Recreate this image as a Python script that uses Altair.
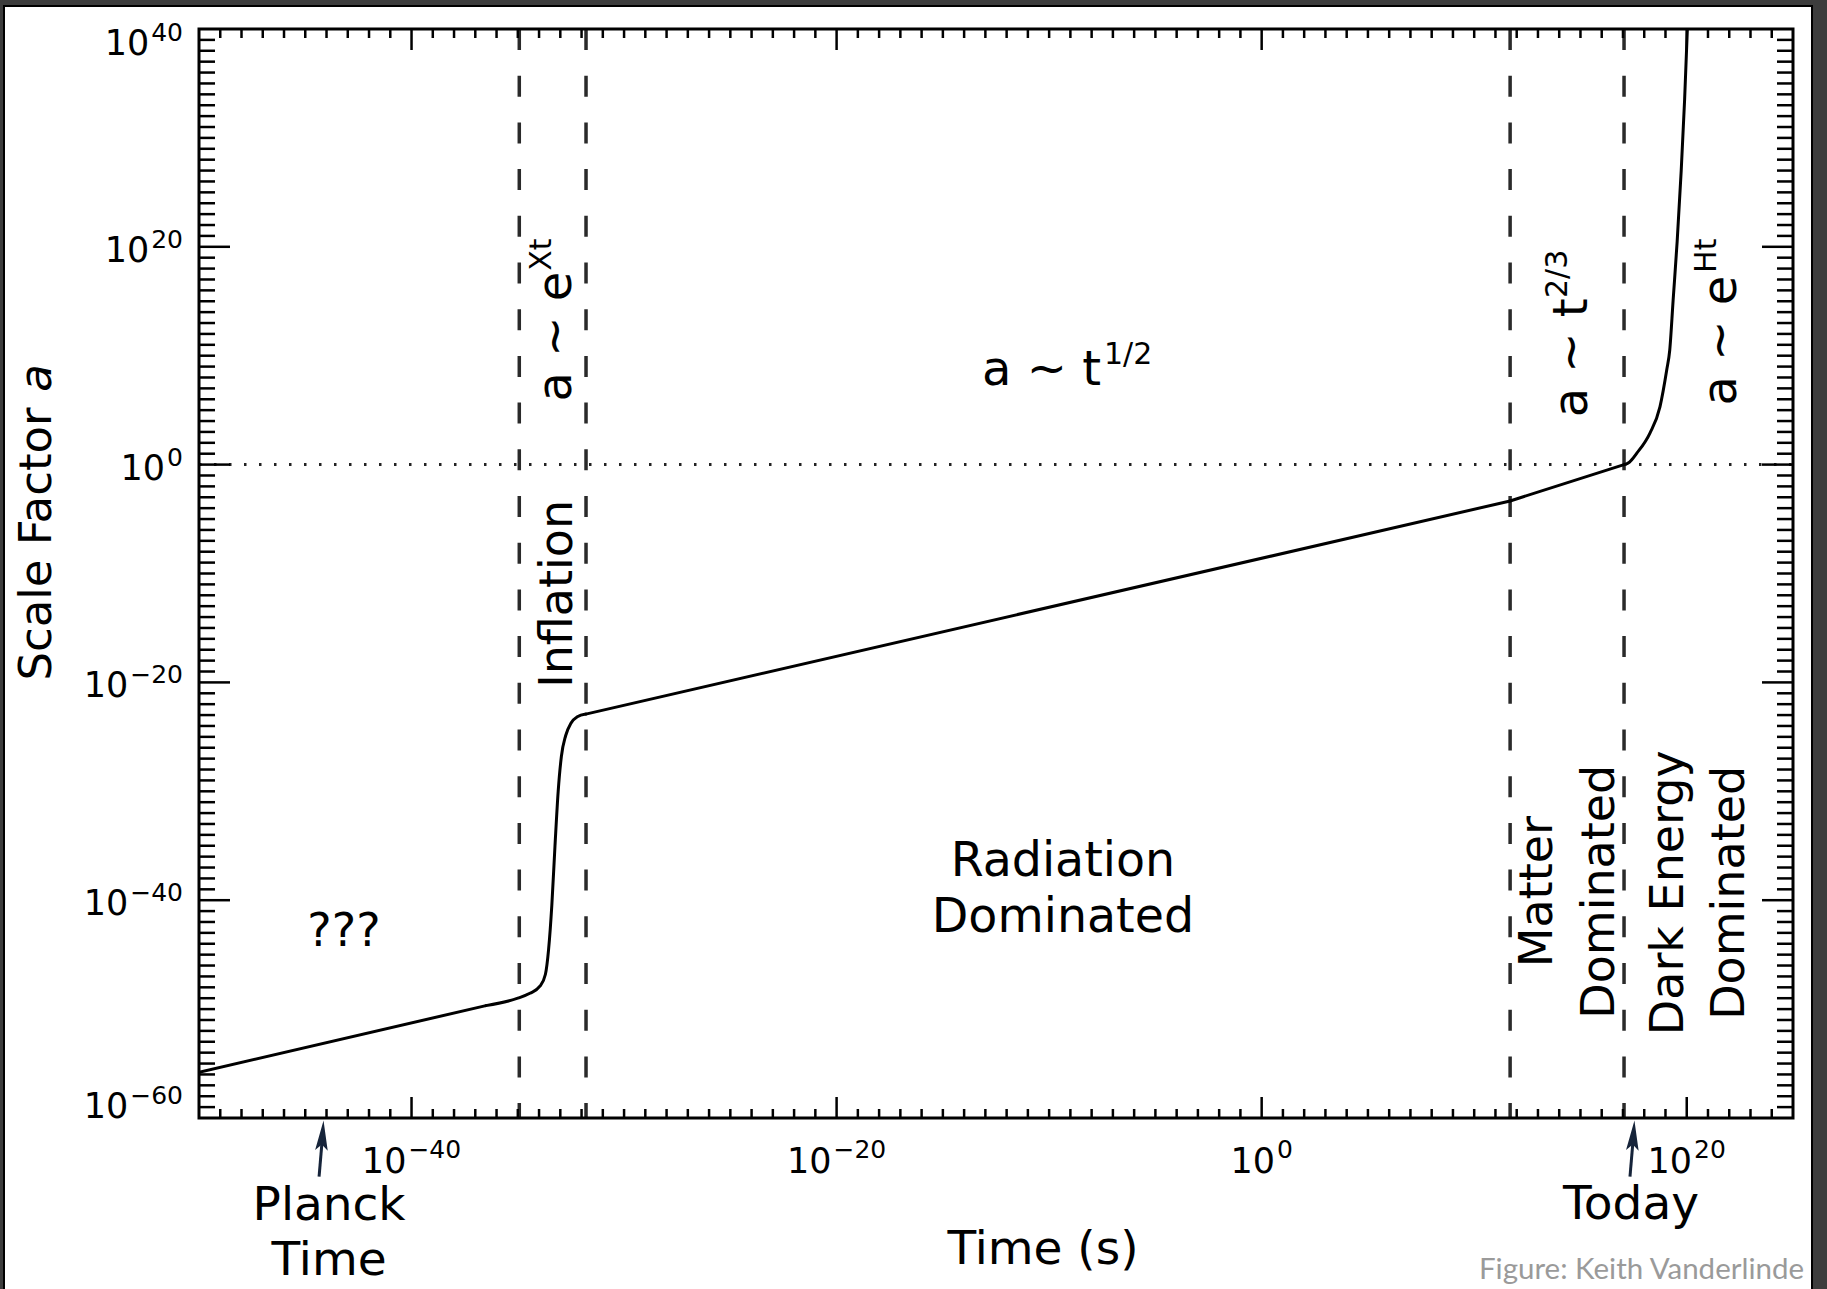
import altair as alt
import numpy as np
import pandas as pd

W, H = 1594, 1089
PX_PER_DEC_X = W / 75.0     # 10^-50 .. 10^25
PX_PER_DEC_Y = H / 100.0    # 10^-60 .. 10^40

# ---------------- data (log10 values) ----------------
pre_log_t = [-50.0, -36.5]
pre_log_a = [-55.8, -49.68]
rad_log_t = [-31.8, 11.69]
rad_log_a = [-22.91, -3.34]
mat_log_t = [11.69, 17.05]
mat_log_a = [-3.34, 0.0]
infl_log_t = [-36.5, -35.0, -34.43, -33.96, -33.70, -33.55, -33.40, -33.25, -33.10,
              -32.95, -32.75, -32.50, -32.20, -31.80]
infl_log_a = [-49.68, -49.0, -48.55, -47.9, -46.8, -44.5, -40.5, -35.0, -30.0,
              -26.8, -24.9, -23.75, -23.15, -22.91]
de_log_t = [17.05, 17.30, 17.66, 18.27, 18.74, 19.06, 19.20, 19.36,
            19.55, 19.74, 19.90, 20.03]
de_log_a = [0.0, 0.22, 1.07, 2.9, 5.3, 8.7, 10.5, 15.1,
            20.5, 27.0, 33.5, 40.0]

phase_log_t = [-34.93, -31.79, 11.69, 17.05]   # era boundaries (dashed)
unity_log_a = [0.0]                             # a = 1 (dotted)

x_major_exp = [-40, -20, 0, 20]
x_exp_text = ["\u221240", "\u221220", "0", "20"]
y_major_exp = [-60, -40, -20, 0, 20, 40]
y_exp_text = ["\u221260", "\u221240", "\u221220", "0", "20", "40"]
x_minor_exp = [e for e in range(-49, 25) if e not in x_major_exp]
y_minor_exp = [e for e in range(-59, 40) if e not in y_major_exp]
x_inner_major = [-40, -20, 0, 20]
y_inner_major = [-40, -20, 0, 20]

region_text = ["???", "Radiation", "Dominated"]
region_log_t = [-43.18, -9.35, -9.35]
region_log_a = [-42.90, -36.47, -41.61]

vertical_text = ["Inflation", "Matter", "Dominated", "Dark Energy", "Dominated"]
vertical_log_t = [-33.11, 13.00, 15.92, 19.17, 22.04]
vertical_log_a = [-11.87, -39.22, -39.22, -39.32, -39.32]

law_rot_base = ["a ~ e", "a ~ t", "a ~ e"]
law_rot_base_log_t = [-33.16, 14.65, 21.66]
law_rot_base_log_a = [11.75, 9.80, 11.38]
law_rot_sup = ["Xt", "2/3", "Ht"]
law_rot_sup_log_t = [-33.86, 13.94, 20.95]
law_rot_sup_log_a = [19.28, 17.51, 19.18]

law_h_base = ["a ~ t"]
law_h_base_log_t = [-7.56]
law_h_base_log_a = [7.32]
law_h_sup = ["1/2"]
law_h_sup_log_t = [-7.42]
law_h_sup_log_a = [9.25]

bottom_text = ["Planck", "Time", "Today", "Time (s)"]
bottom_log_t = [-43.88, -43.88, 17.38, -10.29]
bottom_log_a = [-68.05, -73.10, -67.96, -72.09]

ytitle_text = ["Scale Factor", "a"]
ytitle_log_t = [-57.62, -57.62]
ytitle_log_a = [-7.29, 7.96]

credit_text = ["Figure: Keith Vanderlinde"]
credit_log_t = [25.52]
credit_log_a = [-73.93]

arrow_log_t = [-44.35, 17.33]
arrow_log_t2 = [-44.19, 17.49]
arrow_log_a = [-65.39, -65.39]
arrow_log_a2 = [-61.70, -61.70]
arrow_head_log_a = [-61.60, -61.60]

# ---------------- scales ----------------
FONT = "DejaVu Sans"
xscale = alt.Scale(type="log", domain=[1e-50, 1e25], nice=False)
yscale = alt.Scale(type="log", domain=[1e-60, 1e40], nice=False)


def X(field="t"):
    return alt.X(f"{field}:Q", scale=xscale, axis=None)


def Y(field="a"):
    return alt.Y(f"{field}:Q", scale=yscale, axis=None)


def pw(v):
    return [10.0 ** x for x in v]


one = pd.DataFrame({"k": [0]})
layers = []

# paper background with thin black edge
layers.append(alt.Chart(one).mark_rect(fill="white", stroke="black", strokeWidth=2).encode(
    x=alt.value(-195), x2=alt.value(1613), y=alt.value(-23), y2=alt.value(1300)))

# dotted a = 1 line
layers.append(alt.Chart(pd.DataFrame({"a": pw(unity_log_a)})).mark_rule(
    color="#222222", strokeWidth=3, strokeDash=[2.5, 12.5]).encode(
    y=Y(), x=alt.value(0), x2=alt.value(W)))

# dashed era boundaries
layers.append(alt.Chart(pd.DataFrame({"t": pw(phase_log_t)})).mark_rule(
    color="#2a2a2a", strokeWidth=3.5, strokeDash=[21, 25.7]).encode(
    x=X(), y=alt.value(0), y2=alt.value(H)))


def seg_df(lts, las):
    return pd.DataFrame({"t": pw(lts), "a": pw(las), "i": range(len(lts))})


for lts, las in [(pre_log_t, pre_log_a), (rad_log_t, rad_log_a), (mat_log_t, mat_log_a)]:
    layers.append(alt.Chart(seg_df(lts, las)).mark_line(
        color="black", strokeWidth=3, clip=True, strokeCap="round").encode(
        x=X(), y=Y(), order="i:O"))
for lts, las in [(infl_log_t, infl_log_a), (de_log_t, de_log_a)]:
    layers.append(alt.Chart(seg_df(lts, las)).mark_line(
        color="black", strokeWidth=3, clip=True, interpolate="monotone",
        strokeCap="round").encode(x=X(), y=Y(), order="i:O"))


# inward ticks on all four sides
def xticks(exps, length):
    d = pd.DataFrame({"t": pw(exps)})
    return [
        alt.Chart(d).mark_rule(color="black", strokeWidth=2.5).encode(
            x=X(), y=alt.value(H), y2=alt.value(H - length)),
        alt.Chart(d).mark_rule(color="black", strokeWidth=2.5).encode(
            x=X(), y=alt.value(0), y2=alt.value(length)),
    ]


def yticks(exps, length):
    d = pd.DataFrame({"a": pw(exps)})
    return [
        alt.Chart(d).mark_rule(color="black", strokeWidth=2.5).encode(
            y=Y(), x=alt.value(0), x2=alt.value(length)),
        alt.Chart(d).mark_rule(color="black", strokeWidth=2.5).encode(
            y=Y(), x=alt.value(W), x2=alt.value(W - length)),
    ]


layers += xticks(x_minor_exp, 9) + xticks(x_inner_major, 21)
layers += yticks(y_minor_exp, 16) + yticks(y_inner_major, 31)

# frame
layers.append(alt.Chart(one).mark_rect(fill="transparent", stroke="black", strokeWidth=3).encode(
    x=alt.value(0), x2=alt.value(W), y=alt.value(0), y2=alt.value(H)))


def text_layer(texts, lts, las, size, angle=0, align="center", baseline="middle",
               color="black", font=FONT, style="normal"):
    d = pd.DataFrame({"label": texts, "t": pw(lts), "a": pw(las)})
    return alt.Chart(d).mark_text(font=font, fontSize=size, angle=angle, align=align,
                                  baseline=baseline, color=color, fontStyle=style).encode(
        x=X(), y=Y(), text="label:N")


# ---- tick labels: "10" plus a raised exponent ----
BASE_FS, EXP_FS, GAP = 35, 25, 2
ADV = {"\u2212": 0.838}


def str_w(s, fs):
    return sum(ADV.get(c, 0.636) for c in s) * fs


w_base = str_w("10", BASE_FS)
xb_t, xe_t = [], []
for e, s in zip(x_major_exp, x_exp_text):
    total = w_base + GAP + str_w(s, EXP_FS)
    right = -total / 2 + w_base
    xb_t.append(e + right / PX_PER_DEC_X)
    xe_t.append(e + (right + GAP) / PX_PER_DEC_X)
xb_a = [-60 - 55 / PX_PER_DEC_Y] * len(x_major_exp)
xe_a = [-60 - 40 / PX_PER_DEC_Y] * len(x_major_exp)
layers.append(text_layer(["10"] * len(x_major_exp), xb_t, xb_a, BASE_FS,
                         align="right", baseline="alphabetic"))
layers.append(text_layer(x_exp_text, xe_t, xe_a, EXP_FS, align="left", baseline="alphabetic"))

yb_t, ye_t, yb_a, ye_a = [], [], [], []
for e, s in zip(y_major_exp, y_exp_text):
    ye_t.append(-50 - 16 / PX_PER_DEC_X)
    yb_t.append(-50 - (16 + str_w(s, EXP_FS) + GAP) / PX_PER_DEC_X)
    drop = 26 if e == 40 else (0 if e == -60 else 15)
    yb_a.append(e - drop / PX_PER_DEC_Y)
    ye_a.append(e - (drop - 14) / PX_PER_DEC_Y)
layers.append(text_layer(["10"] * len(y_major_exp), yb_t, yb_a, BASE_FS,
                         align="right", baseline="alphabetic"))
layers.append(text_layer(y_exp_text, ye_t, ye_a, EXP_FS, align="right", baseline="alphabetic"))

# ---- annotations ----
layers.append(text_layer(region_text[:1], region_log_t[:1], region_log_a[:1], 46))
layers.append(text_layer(region_text[1:], region_log_t[1:], region_log_a[1:], 47.5))
layers.append(text_layer(vertical_text, vertical_log_t, vertical_log_a, 46, angle=270))
layers.append(text_layer(law_rot_base, law_rot_base_log_t, law_rot_base_log_a, 48, angle=270))
layers.append(text_layer(law_rot_sup, law_rot_sup_log_t, law_rot_sup_log_a, 30, angle=270))
layers.append(text_layer(law_h_base, law_h_base_log_t, law_h_base_log_a, 48,
                         align="right", baseline="alphabetic"))
layers.append(text_layer(law_h_sup, law_h_sup_log_t, law_h_sup_log_a, 30,
                         align="left", baseline="alphabetic"))
layers.append(text_layer(bottom_text, bottom_log_t, bottom_log_a, 47))
layers.append(text_layer(ytitle_text[:1], ytitle_log_t[:1], ytitle_log_a[:1], 45, angle=270))
layers.append(text_layer(ytitle_text[1:], ytitle_log_t[1:], ytitle_log_a[1:], 45, angle=270,
                         style="italic"))
layers.append(text_layer(credit_text, credit_log_t, credit_log_a, 29.5, align="right",
                         color="#9a9a9a", font="Lato"))

# arrows (Planck time, today)
arr = pd.DataFrame({"t": pw(arrow_log_t), "t2": pw(arrow_log_t2),
                    "a": pw(arrow_log_a), "a2": pw(arrow_log_a2),
                    "ah": pw(arrow_head_log_a)})
layers.append(alt.Chart(arr).mark_rule(color="#16243a", strokeWidth=3).encode(
    x=X(), x2="t2:Q", y=Y(), y2="a2:Q"))
layers.append(alt.Chart(arr).mark_point(
    shape="M0,-1L0.42,1L0,0.6L-0.42,1Z", filled=True, size=900, color="#16243a",
    opacity=1, angle=4, strokeWidth=0).encode(x=X("t2"), y=Y("ah")))

chart = alt.layer(*layers).properties(
    width=W, height=H,
    padding={"left": 199, "top": 29, "right": 34, "bottom": 171},
    autosize=alt.AutoSizeParams(type="none"),
    background="#3d3d3d",
).configure_view(stroke=None)

chart.save("out.html", embed_options={"renderer": "svg", "actions": False})
